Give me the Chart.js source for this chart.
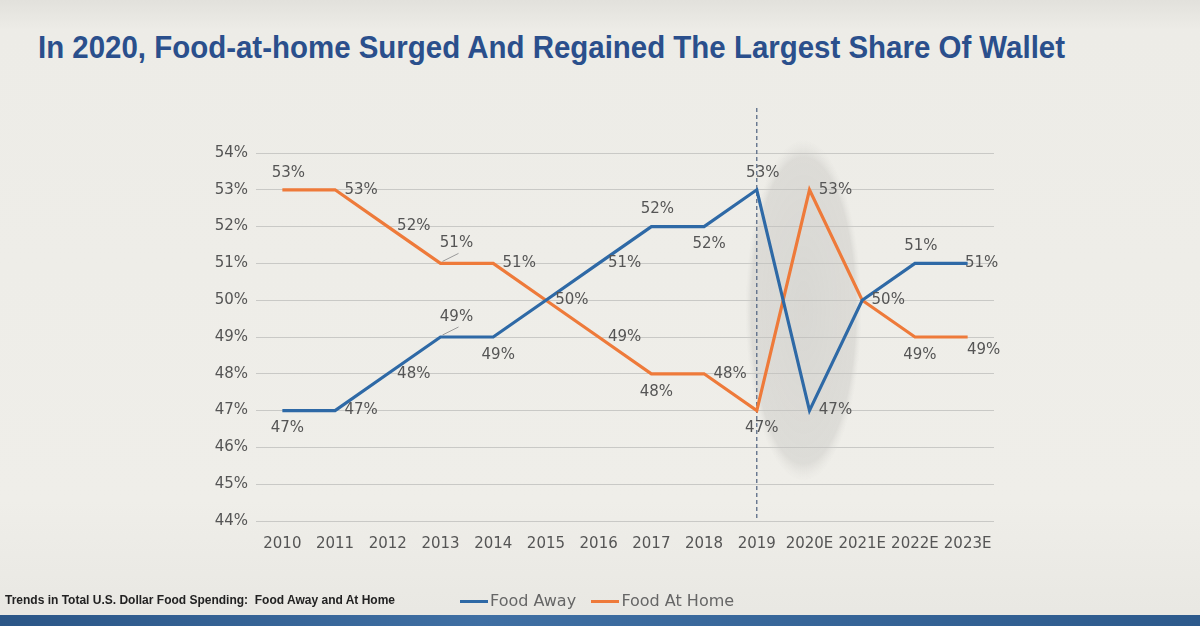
<!DOCTYPE html>
<html><head><meta charset="utf-8">
<script src="https://cdn.jsdelivr.net/npm/chart.js@4.4.1/dist/chart.umd.min.js"></script>
<style>
html,body{margin:0;padding:0;width:1200px;height:626px;overflow:hidden;background:#ecebe6;}
#wrap{position:relative;width:1200px;height:626px;background:linear-gradient(#e2e1dc 0px,#edece7 30px,#efeee9 500px,#e9e8e3 610px);}
#title{position:absolute;left:38px;top:30px;font-family:"Liberation Sans",Arial,sans-serif;font-weight:bold;font-size:31px;color:#2a4f8c;white-space:nowrap;transform-origin:0 0;}
#foot{position:absolute;left:5px;top:593px;font-family:"Liberation Sans",Arial,sans-serif;font-weight:bold;font-size:12px;color:#222;white-space:nowrap;}
#legend{position:absolute;left:460px;top:591px;font-family:"DejaVu Sans",sans-serif;font-size:16px;color:#666;white-space:nowrap;}
#legend span.sw{display:inline-block;width:28px;height:3px;vertical-align:middle;margin-right:2px;}
#bar{position:absolute;left:0;top:615px;width:1200px;height:11px;background:linear-gradient(90deg,#2b5687,#3f6fa3 40%,#2d5a8c);}
canvas{position:absolute;left:0;top:0;}
</style></head>
<body><div id="wrap">
<div id="title">In 2020, Food-at-home Surged And Regained The Largest Share Of Wallet</div>
<canvas id="c" width="1200" height="626"></canvas>
<div id="foot">Trends in Total U.S. Dollar Food Spending:&nbsp; Food Away and At Home</div>
<div id="legend"><span class="sw" style="background:#2e69a6"></span>Food Away&nbsp;&nbsp;&nbsp;<span class="sw" style="background:#ee7a3a"></span>Food At Home</div>
<div id="bar"></div>
</div>
<script>
const categories = ['2010','2011','2012','2013','2014','2015','2016','2017','2018','2019','2020E','2021E','2022E','2023E'];
const foodAway   = [47,47,48,49,49,50,51,52,52,53,47,50,51,51];
const foodAtHome = [53,53,52,51,51,50,49,48,48,47,53,50,49,49];
const yTicks = [44,45,46,47,48,49,50,51,52,53,54];
// label placement per point (rendering hint only)
const awayLabelPos = ['below','right','right','aboveLeader','below','none','right','above','below','above','right','none','above','rightClose'];
const homeLabelPos = ['above','right','right','aboveLeader','right','right','right','below','right','below','right','right','below','rightBelow'];

const title = document.getElementById('title');
const tw = title.getBoundingClientRect().width;
title.style.transform = 'scaleX(' + (1027 / tw) + ')';

const decor = {
  id:'decor',
  beforeDatasetsDraw(chart){
    const {ctx, scales:{x,y}} = chart;
    // shaded ellipse around 2020E
    const cx = x.getPixelForValue(10) - 6;
    const top = y.getPixelForValue(54.35), bot = y.getPixelForValue(45.1);
    const cy = (top+bot)/2, ry = (bot-top)/2, rx = 58;
    ctx.save();
    ctx.translate(cx, cy); ctx.scale(rx/ry, 1);
    const g = ctx.createRadialGradient(0,0,0,0,0,ry);
    g.addColorStop(0,'rgba(190,189,186,0.45)');
    g.addColorStop(0.9,'rgba(195,194,190,0.4)');
    g.addColorStop(1,'rgba(215,214,210,0)');
    ctx.fillStyle = g;
    ctx.beginPath(); ctx.arc(0,0,ry,0,Math.PI*2); ctx.fill();
    ctx.restore();
    // dashed vertical at 2019
    const dx = x.getPixelForValue(9);
    ctx.save();
    ctx.strokeStyle = '#4d607e'; ctx.lineWidth = 1.2; ctx.setLineDash([4,3]);
    ctx.beginPath(); ctx.moveTo(dx, 108); ctx.lineTo(dx, y.getPixelForValue(44)); ctx.stroke();
    ctx.restore();
  },
  afterDatasetsDraw(chart){
    const {ctx, scales:{x,y}} = chart;
    ctx.save();
    ctx.font = '15px "DejaVu Sans", sans-serif';
    ctx.fillStyle = '#555';
    ctx.textAlign = 'center'; ctx.textBaseline = 'middle';
    const draw = (vals, pos) => {
      vals.forEach((v,i)=>{
        const p = pos[i]; if(p==='none') return;
        const px = x.getPixelForValue(i), py = y.getPixelForValue(v);
        let lx = px, ly = py;
        if(p==='above'){ ly = py-17; lx = px+6; }
        else if(p==='below'){ ly = py+18; lx = px+5; }
        else if(p==='right'){ lx = px+26; ly = py; }
        else if(p==='rightClose'){ lx = px+14; ly = py; }
        else if(p==='rightBelow'){ lx = px+16; ly = py+13; }
        else if(p==='aboveLeader'){
          lx = px+16; ly = py-20;
          ctx.save(); ctx.strokeStyle='#999'; ctx.lineWidth=1;
          ctx.beginPath(); ctx.moveTo(px+2,py-2); ctx.lineTo(px+18,py-10); ctx.stroke(); ctx.restore();
        }
        ctx.fillText(v+'%', lx, ly);
      });
    };
    draw(foodAway, awayLabelPos);
    draw(foodAtHome, homeLabelPos);
    ctx.restore();
  }
};

new Chart(document.getElementById('c'), {
  type:'line',
  data:{
    labels: categories,
    datasets:[
      {label:'Food Away', data: foodAway, borderColor:'#2e69a6', borderWidth:3.2, pointRadius:0, tension:0, fill:false},
      {label:'Food At Home', data: foodAtHome, borderColor:'#ee7a3a', borderWidth:3.2, pointRadius:0, tension:0, fill:false}
    ]
  },
  options:{
    responsive:false, animation:false,
    layout:{padding:{left:0, top:153, right:206, bottom:65}},
    plugins:{legend:{display:false}, tooltip:{enabled:false}},
    scales:{
      x:{
        offset:true,
        grid:{display:false, drawTicks:false},
        border:{display:false},
        ticks:{color:'#555', font:{family:'"DejaVu Sans", sans-serif', size:15}, padding:14, maxRotation:0, autoSkip:false},
        afterFit(s){ s.height = 40; }
      },
      y:{
        min:44, max:54,
        afterBuildTicks(s){ s.ticks = yTicks.map(v=>({value:v})); },
        grid:{color:'#c9c9c6', lineWidth:1, drawTicks:false},
        border:{display:false},
        ticks:{color:'#555', font:{family:'"DejaVu Sans", sans-serif', size:15}, padding:8, callback:v=>v+'%'},
        afterFit(s){ s.width = 256; }
      }
    }
  },
  plugins:[decor]
});
</script>
</body></html>
